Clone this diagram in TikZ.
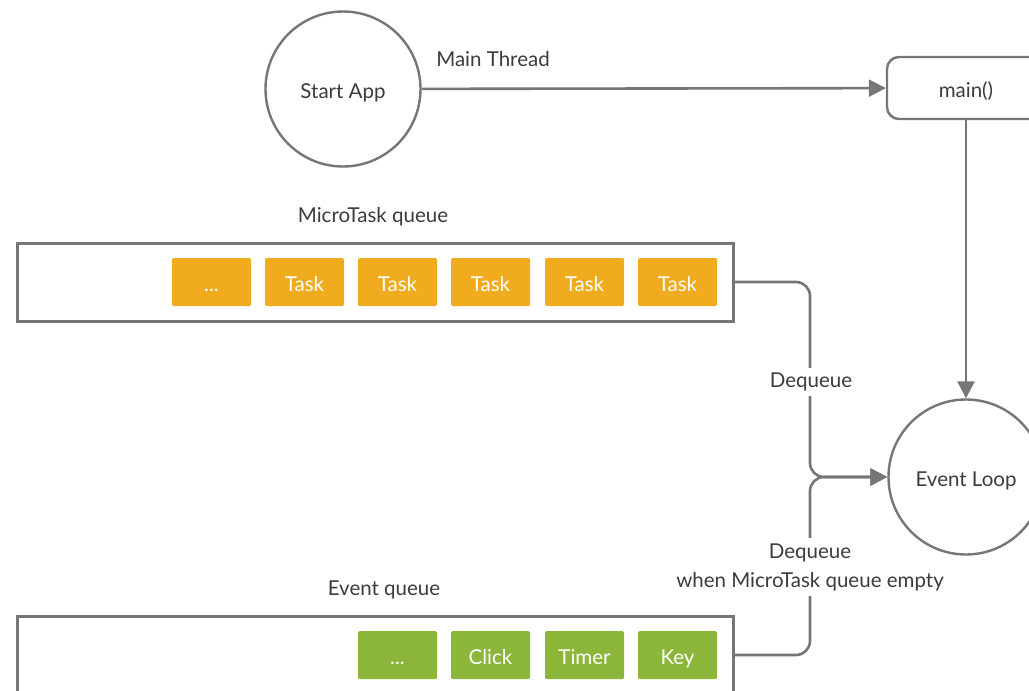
\documentclass[tikz,border=0pt]{standalone}
\usepackage{fontspec}
\setmainfont{Lato}
\usetikzlibrary{arrows.meta}
\pgfdeclarelayer{front}
\pgfsetlayers{main,front}
\definecolor{linegray}{RGB}{118,118,118}
\definecolor{txtgray}{RGB}{60,60,60}
\definecolor{taskyellow}{RGB}{240,172,30}
\definecolor{evgreen}{RGB}{140,182,58}
\tikzset{
  fnt/.style={font=\fontsize{20.5}{24}\selectfont},
  oneline/.style={fnt, text height=18pt, text depth=0pt},
  conn/.style={draw=linegray, line width=2.6pt, rounded corners=14pt, -{Triangle[length=17pt,width=17pt]}},
  circ/.style={circle, draw=linegray, line width=2.4pt, minimum size=155pt, inner sep=0pt, text=txtgray, oneline},
  mainbox/.style={rectangle, rounded corners=12pt, draw=linegray, line width=2.4pt, minimum width=158pt, minimum height=62pt, inner sep=0pt, text=txtgray, oneline},
  queue/.style={rectangle, draw=linegray, line width=3pt, minimum width=716pt, minimum height=78pt, inner sep=0pt},
  task/.style={rectangle, fill=taskyellow, rounded corners=1.5pt, minimum width=79pt, minimum height=48pt, inner sep=0pt, text=white, oneline},
  ev/.style={task, fill=evgreen},
  lbl/.style={text=txtgray, oneline, inner sep=2pt},
  lblbg/.style={text=txtgray, fnt, fill=white, align=center, inner sep=5pt},
}
\begin{document}
\begin{tikzpicture}[x=1pt,y=-1pt]
\useasboundingbox (0,0) rectangle (1029,691);
\clip (0,0) rectangle (1029,691);
\fill[white] (0,0) rectangle (1029,691);

\node[circ] (start) at (343,89) {Start App};
\node[mainbox] (main) at (966,88) {main()};
\begin{pgfonlayer}{front}
\node[circ] (loop) at (966,477) {Event Loop};
\end{pgfonlayer}
\node[lbl] (mt) at (493,57) {Main Thread};

\node[lbl] (mtq) at (373,213) {MicroTask queue};
\node[queue] (micro) at (375,282) {};
\node[task] (t0) at (211.5,282) {...};
\node[task] (t1) at (304.5,282) {Task};
\node[task] (t2) at (397.5,282) {Task};
\node[task] (t3) at (490.5,282) {Task};
\node[task] (t4) at (584.5,282) {Task};
\node[task] (t5) at (677.5,282) {Task};

\node[lbl] (evq) at (384,586) {Event queue};
\node[queue] (event) at (375,655) {};
\node[ev] (e0) at (397.5,655) {...};
\node[ev] (e1) at (490.5,655) {Click};
\node[ev] (e2) at (584.5,655) {Timer};
\node[ev] (e3) at (677.5,655) {Key};

\coordinate (j) at (810,477);

\draw[conn] (start) -- (main);
\draw[conn] (main) -- (loop);
\draw[conn] (micro.east) -- (j |- micro.east) -- (j) -- (loop.west);
\draw[conn] (event.east) -- (j |- event.east) -- (j) -- (loop.west);

\node[lblbg] (d1) at (811,382) {Dequeue};
\node[lblbg, font=\fontsize{20.5}{29}\selectfont] (d2) at (810,567) {Dequeue\\when MicroTask queue empty};
\end{tikzpicture}
\end{document}
